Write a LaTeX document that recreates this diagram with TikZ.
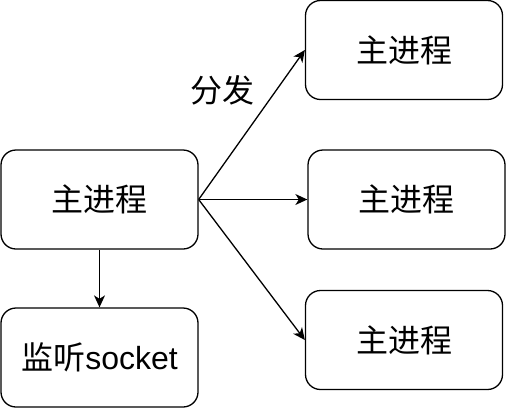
\documentclass[tikz,border=0pt]{standalone}
\usepackage{fontspec}
\setmainfont{Liberation Sans}
\newfontfamily\cjk{Noto Sans CJK SC}
\usetikzlibrary{arrows.meta}
\begin{document}
\begin{tikzpicture}[x=1pt,y=-1pt,
  box/.style={draw, line width=1.3pt, rounded corners=15pt, minimum width=197pt, minimum height=99pt, inner sep=0pt, font=\fontsize{32}{38}\selectfont},
  conn/.style={line width=1.3pt, -{Stealth[length=12pt,width=11pt,inset=3.5pt]}}]
\useasboundingbox (0,0) rectangle (508,408);
\node[box] (main) at (99.5,199.5) {\cjk 主进程};
\node[box] (sock) at (99.5,357.5) {\cjk 监听\rmfamily socket};
\node[box] (p1) at (404,50) {\cjk 主进程};
\node[box] (p2) at (406.5,199.5) {\cjk 主进程};
\node[box] (p3) at (404,340) {\cjk 主进程};
\draw[conn] (main.south) -- (sock.north);
\draw[conn] (main.east) -- (p1.west);
\draw[conn] (main.east) -- (p2.west);
\draw[conn] (main.east) -- (p3.west);
\node[font=\fontsize{32}{38}\selectfont] (lbl) at (222,90) {\cjk 分发};
\end{tikzpicture}
\end{document}
